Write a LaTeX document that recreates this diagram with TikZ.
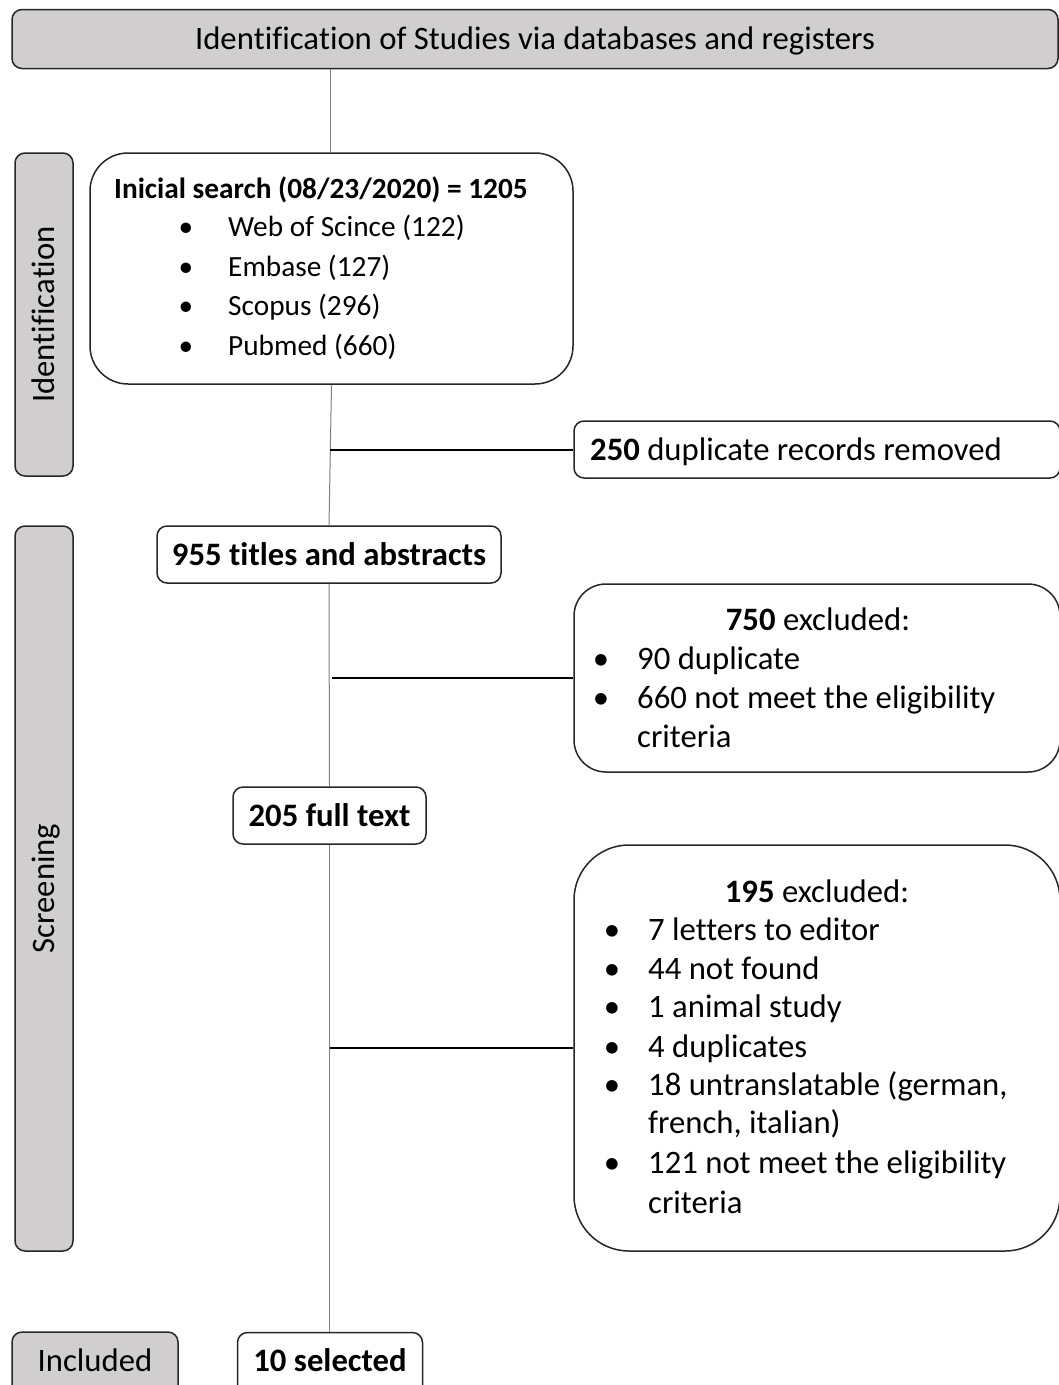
\documentclass[tikz,border=0pt]{standalone}
\usepackage{fontspec}
\setmainfont{Carlito}[Ligatures={NoCommon,NoRequired,NoContextual},RawFeature={-liga;-clig;-rlig;-calt}]
\definecolor{phasegray}{HTML}{D0CECE}
\definecolor{edgecol}{HTML}{262626}
\definecolor{flowgray}{HTML}{7F7F7F}
\newcommand{\mainsz}{\fontsize{32.7}{39}\selectfont}
\newcommand{\smallsz}{\fontsize{29.3}{39}\selectfont}
\newcommand{\nlg}{\kern0pt }
\newcommand{\Identword}{Iden\nlg t\nlg i\nlg f\nlg ica\nlg t\nlg ion}
\begin{document}
\begin{tikzpicture}[x=1pt,y=-1pt,
  font=\mainsz,
  box/.style={draw=edgecol, line width=1.5pt, fill=white, rectangle, inner sep=0pt, rounded corners=10pt, text height=21pt, text depth=0pt},
  phase/.style={box, fill=phasegray},
  txt/.style={inner sep=0pt, anchor=base west},
  hdr/.style={inner sep=0pt, anchor=base},
  bul/.style={inner sep=0pt, anchor=base},
  sidelabel/.style={inner sep=0pt, rotate=90, text height=21pt, text depth=0pt},
  flow/.style={draw=flowgray, line width=1pt},
  branch/.style={draw=black, line width=2pt}
]
\useasboundingbox (0,0) rectangle (1059,1385);
\clip (0,0) rectangle (1059,1385);

% top banner
\node[phase, minimum width=1046pt, minimum height=59pt] (top) at (535,39) {\Identword{} of Studies via databases and registers};

% side phase boxes
\node[phase, minimum width=58pt, minimum height=323pt] (idph) at (44,314.5) {};
\node[sidelabel] (idlab) at (44,314.5) {\Identword};
\node[phase, minimum width=58pt, minimum height=725pt] (scph) at (44,888.5) {};
\node[sidelabel] (sclab) at (44,888.5) {Screening};
\node[phase, minimum width=166pt, minimum height=70pt] (incph) at (95,1367) {};
\node[hdr] (inclab) at (95,1371) {Included};

% initial search
\node[box, rounded corners=38pt, minimum width=483pt, minimum height=231pt] (init) at (331.5,268.5) {};
\begin{scope}[font=\smallsz]
\node[txt] (inith) at (114,198) {\bfseries Inicial search (08/23/2020) = 1205};
\node[bul] (ib1) at (186,236) {•};
\node[txt] (it1) at (228,236) {Web of Scince (122)};
\node[bul] (ib2) at (186,276) {•};
\node[txt] (it2) at (228,276) {Embase (127)};
\node[bul] (ib3) at (186,315) {•};
\node[txt] (it3) at (228,315) {Scopus (296)};
\node[bul] (ib4) at (186,355) {•};
\node[txt] (it4) at (228,355) {Pubmed (660)};
\end{scope}

% duplicates removed
\node[box, minimum width=486pt, minimum height=57pt] (dup) at (817,449.5) {};
\node[txt] (duptxt) at (590,460) {\textbf{250} duplicate records removed};

% 955
\node[box, minimum width=344pt, minimum height=57pt, font=\mainsz\bfseries] (tia) at (329,554.5) {955 t\nlg itles and abstracts};

% 750 excluded
\node[box, rounded corners=32pt, minimum width=486pt, minimum height=188pt] (ex1) at (817,678) {};
\node[hdr] (ex1h) at (818,630) {\textbf{750} excluded:};
\node[bul] (e1b1) at (601,669) {•};
\node[txt] (e1t1) at (637,669) {90 duplicate};
\node[bul] (e1b2) at (601,708) {•};
\node[txt] (e1t2) at (637,708) {660 not meet the eligibility};
\node[txt] (e1t3) at (637,747) {criteria};

% 205
\node[box, minimum width=193pt, minimum height=57pt, font=\mainsz\bfseries] (full) at (329.5,815.5) {205 full text};

% 195 excluded
\node[box, rounded corners=55pt, minimum width=486pt, minimum height=406pt] (ex2) at (817,1048) {};
\node[hdr] (ex2h) at (817,902) {\textbf{195} excluded:};
\node[bul] (e2b1) at (612,940) {•};
\node[txt] (e2t1) at (648,940) {7 letters to editor};
\node[bul] (e2b2) at (612,979) {•};
\node[txt] (e2t2) at (648,979) {44 not found};
\node[bul] (e2b3) at (612,1017) {•};
\node[txt] (e2t3) at (648,1017) {1 animal study};
\node[bul] (e2b4) at (612,1057) {•};
\node[txt] (e2t4) at (648,1057) {4 duplicates};
\node[bul] (e2b5) at (612,1095) {•};
\node[txt] (e2t5) at (648,1095) {18 untranslatable (german,};
\node[txt] (e2t6) at (648,1133) {french, italian)};
\node[bul] (e2b7) at (612,1173) {•};
\node[txt] (e2t7) at (648,1173) {121 not meet the eligibility};
\node[txt] (e2t8) at (648,1213) {criteria};

% 10 selected
\node[box, minimum width=185pt, minimum height=70pt] (sel) at (330,1367.5) {};
\node[hdr, font=\mainsz\bfseries] (seltxt) at (330,1371) {10 selected};

% main flow
\coordinate (j1) at (330,450);
\coordinate (j2) at (332,678);
\coordinate (j3) at (330,1048);
\draw[flow] (330,69) -- (330,153);
\draw[flow] (init.south) -- (tia.north);
\draw[flow] (tia.south) -- (full.north);
\draw[flow] (full.south) -- (full.south |- sel.north);

% branches
\draw[branch] (j1) -- (dup.west |- j1);
\draw[branch] (j2) -- (ex1.west |- j2);
\draw[branch] (j3) -- (ex2.west |- j3);
\end{tikzpicture}
\end{document}
